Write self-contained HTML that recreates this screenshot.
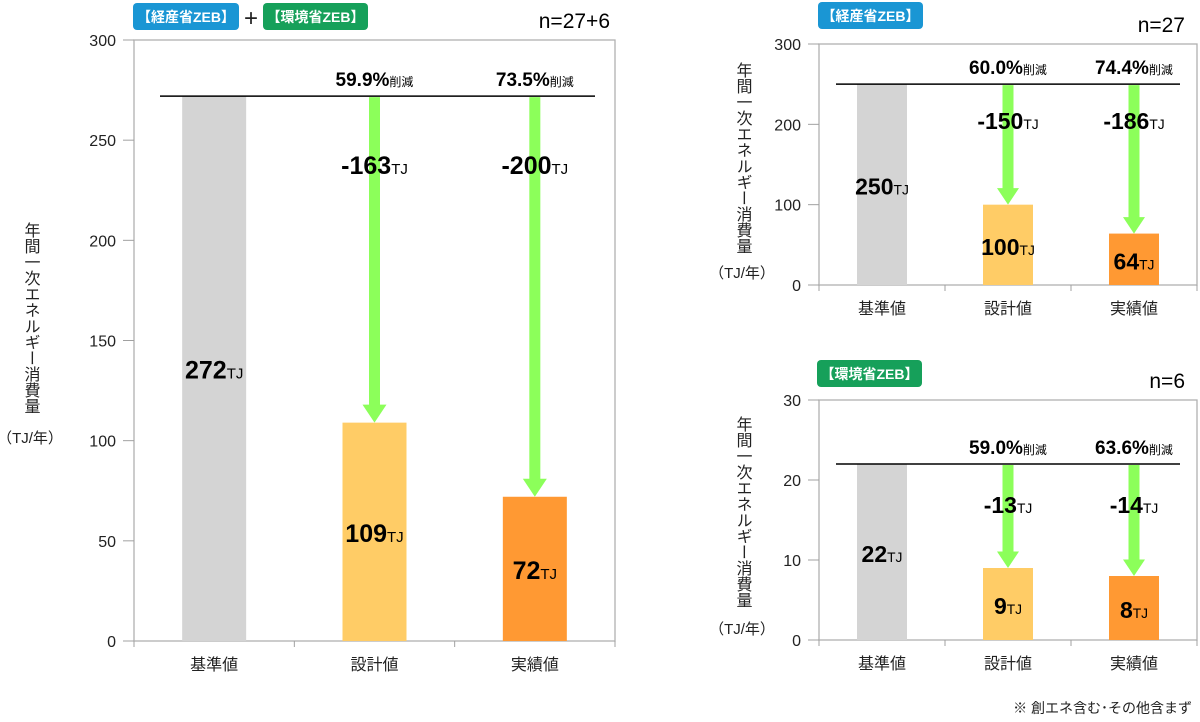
<!DOCTYPE html>
<html><head><meta charset="utf-8">
<style>
body{margin:0;background:#fff;width:1200px;height:717px;overflow:hidden;font-family:"Liberation Sans","Noto Sans CJK JP",sans-serif}
svg text{font-family:"Liberation Sans","Noto Sans CJK JP",sans-serif}
</style></head><body>
<svg id="c" width="1200" height="717" xmlns="http://www.w3.org/2000/svg"></svg>
<script>
const categories=["基準値","設計値","実績値"];
const totalValues=[272,109,72];
const totalReductions=[163,200];
const totalPercents=["59.9%","73.5%"];
const metiValues=[250,100,64];
const metiReductions=[150,186];
const metiPercents=["60.0%","74.4%"];
const moeValues=[22,9,8];
const moeReductions=[13,14];
const moePercents=["59.0%","63.6%"];
const totalTicks=[0,50,100,150,200,250,300];
const metiTicks=[0,100,200,300];
const moeTicks=[0,10,20,30];

const NS="http://www.w3.org/2000/svg";
const svg=document.getElementById('c');
function mk(tag,attrs,parent,text){const e=document.createElementNS(NS,tag);for(const k in attrs)e.setAttribute(k,attrs[k]);if(text!==undefined)e.textContent=text;(parent||svg).appendChild(e);return e;}
const colors=["#d4d4d4","#ffcc66","#ff9933"];

function panel(cfg){
  const g=mk('g',{});
  
  
  const {x0,x1,y0,y1,max}=cfg;
  const y=v=>y1-(v/max)*(y1-y0);
  const slot=(x1-x0)/categories.length;
  const cx=i=>x0+slot*(i+0.5);
  const box=mk('rect',{x:x0,y:y0,width:x1-x0,height:y1-y0,fill:'none',stroke:'#b0b0b0','stroke-width':1.3},g);
  
  
  cfg.ticks.forEach(t=>{
    mk('line',{x1:x0-11,x2:x0,y1:y(t),y2:y(t),stroke:'#a0a0a0'},g);
    const tl=mk('text',{x:x0-18,y:y(t)+6,'text-anchor':'end','font-size':16,fill:'#222'},g,t);
    
    
  });
  for(let i=0;i<=categories.length;i++){mk('line',{x1:x0+slot*i,x2:x0+slot*i,y1:y1,y2:y1+6,stroke:'#a0a0a0'},g);}
  const vals=cfg.values;
  const bw=cfg.bw;
  vals.forEach((v,i)=>{
    const b=mk('rect',{x:cx(i)-bw/2,y:y(v),width:bw,height:y1-y(v),fill:colors[i]},g);
    
    
    const cl=mk('text',{x:cx(i),y:cfg.catY,'text-anchor':'middle','font-size':16,fill:'#222'},g,categories[i]);
    
    
    const lab=mk('text',{x:cx(i),y:(y(v)+y1)/2+10,'text-anchor':'middle','font-size':cfg.fs,'font-weight':'bold',fill:'#000'},g);
    
    
    lab.textContent=v;
    mk('tspan',{'font-size':cfg.fs*0.6,'font-weight':'normal'},lab,'TJ');
  });
  const ly=y(vals[0]);
  const rl=mk('line',{x1:x0+cfg.lineL,x2:x1-cfg.lineR,y1:ly,y2:ly,stroke:'#000','stroke-width':1.5},g);
  
  
  [1,2].forEach(i=>{
    const top=ly+1,bot=y(vals[i]);
    const hw=cfg.head, hh=cfg.head*0.75, sw=cfg.shaft;
    const a=mk('polygon',{points:`${cx(i)-sw/2},${top} ${cx(i)+sw/2},${top} ${cx(i)+sw/2},${bot-hh} ${cx(i)+hw/2},${bot-hh} ${cx(i)},${bot} ${cx(i)-hw/2},${bot-hh} ${cx(i)-sw/2},${bot-hh}`,fill:'#8cff5a'},g);
    
    
    const r=mk('text',{x:cx(i),y:cfg.redY,'text-anchor':'middle','font-size':cfg.fs,'font-weight':'bold',fill:'#000'},g);
    
    
    r.textContent='-'+cfg.reds[i-1];
    mk('tspan',{'font-size':cfg.fs*0.6,'font-weight':'normal'},r,'TJ');
    const p=mk('text',{x:cx(i),y:ly-10,'text-anchor':'middle','font-size':19,'font-weight':'bold',fill:'#000'},g);
    
    
    p.textContent=cfg.pcts[i-1];
    mk('tspan',{'font-size':12,'font-weight':'normal'},p,'削減');
  });
  const tt=mk('text',{x:cfg.titleX,y:cfg.titleY,'font-size':16,fill:'#222','writing-mode':'tb','glyph-orientation-vertical':0},g,'年間一次エネルギー消費量');
  
  
  const tu=mk('text',{x:cfg.titleX,y:cfg.unitY,'text-anchor':'middle','font-size':15,fill:'#222'},g,'（TJ/年）');
  
  
  const n=mk('text',{x:cfg.nX,y:cfg.nY,'text-anchor':'end','font-size':21,fill:'#000'},g,cfg.n);
  
  
}
function badge(x,y,w,color,text,name){
  const r=mk('rect',{x:x,y:y,width:w,height:27,rx:4,fill:color});
  
  
  const t=mk('text',{x:x+w/2,y:y+19,'text-anchor':'middle','font-size':14,'font-weight':'bold',fill:'#fff'},null,text);
  
  
}
panel({name:'total-chart',x0:134,x1:615,y0:40,y1:641,max:300,ticks:totalTicks,values:totalValues,reds:totalReductions,pcts:totalPercents,bw:64,fs:25,catY:670,redY:174,lineL:26,lineR:20,head:24,shaft:11,titleX:30,titleY:222,unitY:443,nX:610,nY:28,n:'n=27+6'});
panel({name:'meti-chart',x0:819,x1:1197,y0:44,y1:285,max:300,ticks:metiTicks,values:metiValues,reds:metiReductions,pcts:metiPercents,bw:50,fs:23,catY:314,redY:129,lineL:17,lineR:17,head:22,shaft:11,titleX:742,titleY:62,unitY:278,nX:1185,nY:32,n:'n=27'});
panel({name:'moe-chart',x0:819,x1:1197,y0:400,y1:640,max:30,ticks:moeTicks,values:moeValues,reds:moeReductions,pcts:moePercents,bw:50,fs:23,catY:669,redY:513,lineL:17,lineR:17,head:22,shaft:11,titleX:742,titleY:416,unitY:634,nX:1185,nY:388,n:'n=6'});
badge(133,3,106,'#1a96d4','【経産省ZEB】','badge-meti-total');
const plus=mk('text',{x:251,y:26,'text-anchor':'middle','font-size':24,fill:'#222'},null,'+');


badge(263,3,105,'#16a05a','【環境省ZEB】','badge-moe-total');
badge(818,2,105,'#1a96d4','【経産省ZEB】','badge-meti');
badge(817,360,105,'#16a05a','【環境省ZEB】','badge-moe');
const fn=mk('text',{x:1192,y:713,'text-anchor':'end','font-size':14,fill:'#222'},null,'※ 創エネ含む･その他含まず');


</script>
</body></html>
